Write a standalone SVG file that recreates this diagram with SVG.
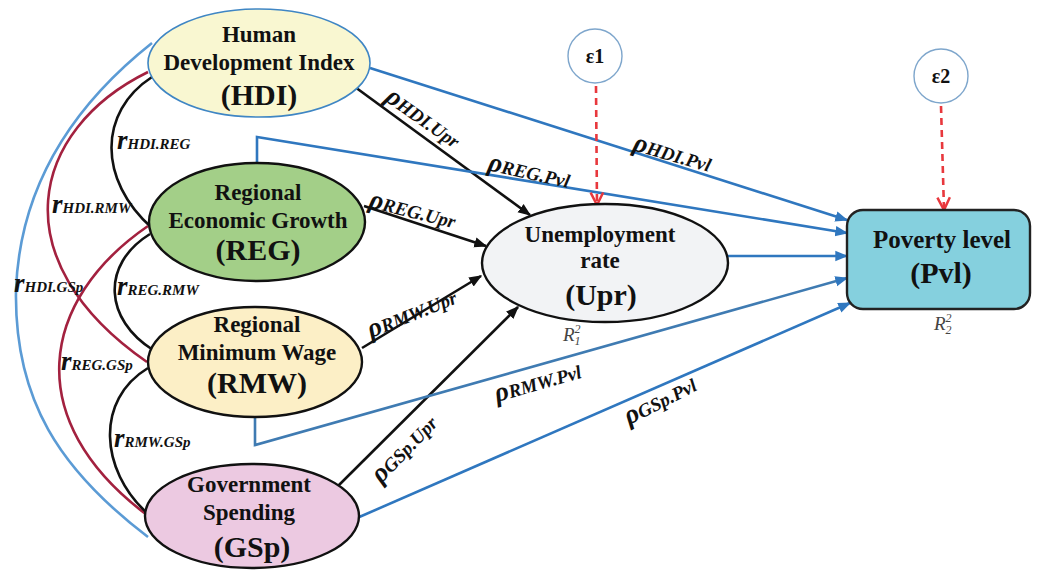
<svg xmlns="http://www.w3.org/2000/svg" width="1037" height="572" viewBox="0 0 1037 572">
<style>
.t{font-family:"Liberation Serif","Times New Roman",serif;font-weight:bold;fill:#111;text-anchor:middle}
.n{font-size:23px}
.a{font-size:30px}
.lab{font-family:"Liberation Serif","Times New Roman",serif;font-weight:bold;font-style:italic;fill:#111}
.big{font-size:27px}
.sub{font-size:15px}
.psub{font-size:19px}
.blk{stroke:#111;stroke-width:2.6;fill:none}
.blu{stroke:#2f77bf;stroke-width:2.6;fill:none}
.red{stroke:#a3213f;stroke-width:2.6;fill:none}
.r2{font-family:"Liberation Serif","Times New Roman",serif;font-style:italic;fill:#444;font-size:19px}
.r2s{font-size:12px}
</style>
<defs>
<marker id="ab" viewBox="0 0 10 10" refX="9" refY="5" markerWidth="5" markerHeight="5" orient="auto" markerUnits="strokeWidth"><path d="M0,1 L10,5 L0,9 z" fill="#111"/></marker>
<marker id="au" viewBox="0 0 10 10" refX="9" refY="5" markerWidth="5" markerHeight="5" orient="auto" markerUnits="strokeWidth"><path d="M0,1 L10,5 L0,9 z" fill="#2f77bf"/></marker>
<marker id="ar" viewBox="0 0 10 10" refX="9" refY="5" markerWidth="6" markerHeight="6" orient="auto" markerUnits="strokeWidth"><path d="M1,1 L9,5 L1,9" fill="none" stroke="#e8383d" stroke-width="1.6"/></marker>
</defs>
<rect width="1037" height="572" fill="#fff"/>
<g id="connectors">
<path class="blu" style="stroke:#5b9bd5" d="M152,43 C80,100 20,180 16,290 C14,400 60,470 148,537"/>
<path class="red" d="M148,72 C30,130 0,260 147,362"/>
<path class="red" d="M148,226 C40,300 20,420 147,515"/>
<path class="blk" d="M152,77 C98,112 98,180 152,228"/>
<path class="blk" d="M150,234 C100,265 105,320 153,350"/>
<path class="blk" d="M148,368 C95,400 100,470 147,513"/>
<line class="blk" x1="355" y1="87" x2="530" y2="215" marker-end="url(#ab)"/>
<line class="blk" x1="364" y1="206" x2="486" y2="246" marker-end="url(#ab)"/>
<line class="blk" x1="362" y1="348" x2="481" y2="276" marker-end="url(#ab)"/>
<line class="blk" x1="338" y1="486" x2="518" y2="307" marker-end="url(#ab)"/>
<line class="blu" x1="370" y1="68" x2="847" y2="220" marker-end="url(#au)"/>
<polyline class="blu" points="257,163 257,137 847,233" marker-end="url(#au)"/>
<line class="blu" x1="728" y1="256" x2="847" y2="256" marker-end="url(#au)"/>
<polyline class="blu" style="stroke:#3f7bb2" points="255,416 255,445 847,278" marker-end="url(#au)"/>
<line class="blu" x1="357" y1="518" x2="850" y2="303" marker-end="url(#au)"/>
<line x1="596" y1="86" x2="597" y2="205" stroke="#e8383d" stroke-width="2.6" stroke-dasharray="7,5" marker-end="url(#ar)"/>
<line x1="941" y1="106" x2="944" y2="210" stroke="#e8383d" stroke-width="2.6" stroke-dasharray="7,5" marker-end="url(#ar)"/>
</g>
<g id="HDI">
<ellipse cx="259" cy="63" rx="111" ry="54" fill="#f9f7d1" stroke="#3f86c4" stroke-width="1.6"/>
<text class="t n" x="259" y="42">Human</text>
<text class="t n" x="259" y="70">Development Index</text>
<text class="t a" x="259" y="105">(HDI)</text>
</g>
<g id="REG">
<ellipse cx="257" cy="222" rx="108" ry="59" fill="#a3cf88" stroke="#111" stroke-width="2.4"/>
<text class="t n" x="258" y="200">Regional</text>
<text class="t n" x="258" y="228">Economic Growth</text>
<text class="t a" x="258" y="260">(REG)</text>
</g>
<g id="RMW">
<ellipse cx="255" cy="362" rx="107" ry="55" fill="#fcefc6" stroke="#111" stroke-width="2.4"/>
<text class="t n" x="257" y="332">Regional</text>
<text class="t n" x="257" y="360">Minimum Wage</text>
<text class="t a" x="257" y="393">(RMW)</text>
</g>
<g id="GSp">
<ellipse cx="252" cy="516" rx="107" ry="52" fill="#ecc9e1" stroke="#111" stroke-width="2.4"/>
<text class="t n" x="249" y="492">Government</text>
<text class="t n" x="249" y="520">Spending</text>
<text class="t a" x="252" y="557">(GSp)</text>
</g>
<g id="Upr">
<ellipse cx="605" cy="263" rx="123" ry="59" fill="#f2f3f5" stroke="#111" stroke-width="2.4"/>
<text class="t n" x="600" y="242">Unemployment</text>
<text class="t n" x="600" y="268">rate</text>
<text class="t a" x="601" y="305">(Upr)</text>
</g>
<g id="Pvl">
<rect x="847" y="210" width="183" height="99" rx="16" fill="#85d0de" stroke="#222" stroke-width="2.4"/>
<text class="t" style="font-size:25px" x="942" y="248">Poverty level</text>
<text class="t" style="font-size:30px" x="941" y="283">(Pvl)</text>
</g>
<g id="e1">
<circle cx="595" cy="56" r="27" fill="#fff" stroke="#7ea6cc" stroke-width="1.4"/>
<text class="t" style="font-size:20px" x="595" y="63">ε1</text>
</g>
<g id="e2">
<circle cx="941" cy="76" r="27" fill="#fff" stroke="#7ea6cc" stroke-width="1.4"/>
<text class="t" style="font-size:20px" x="941" y="83">ε2</text>
</g>
<g id="labels">
<text class="lab" x="117" y="149"><tspan class="big">r</tspan><tspan class="sub">HDI.REG</tspan></text>
<text class="lab" x="52" y="213"><tspan class="big">r</tspan><tspan class="sub">HDI.RMW</tspan></text>
<text class="lab" x="14" y="292"><tspan class="big">r</tspan><tspan class="sub">HDI.GSp</tspan></text>
<text class="lab" x="117" y="295"><tspan class="big">r</tspan><tspan class="sub">REG.RMW</tspan></text>
<text class="lab" x="61" y="370"><tspan class="big">r</tspan><tspan class="sub">REG.GSp</tspan></text>
<text class="lab" x="114" y="447"><tspan class="big">r</tspan><tspan class="sub">RMW.GSp</tspan></text>
<text class="lab" transform="translate(384,100) rotate(35)"><tspan class="big">ρ</tspan><tspan class="psub">HDI.Upr</tspan></text>
<text class="lab" transform="translate(368,207) rotate(14)"><tspan class="big">ρ</tspan><tspan class="psub">REG.Upr</tspan></text>
<text class="lab" transform="translate(487,170) rotate(12.5)"><tspan class="big">ρ</tspan><tspan class="psub">REG.Pvl</tspan></text>
<text class="lab" transform="translate(632,150) rotate(16)"><tspan class="big">ρ</tspan><tspan class="psub">HDI.Pvl</tspan></text>
<text class="lab" transform="translate(371,338) rotate(-22)"><tspan class="big">ρ</tspan><tspan class="psub">RMW.Upr</tspan></text>
<text class="lab" transform="translate(381,484) rotate(-46)"><tspan class="big">ρ</tspan><tspan class="psub">GSp.Upr</tspan></text>
<text class="lab" transform="translate(497,402) rotate(-16)"><tspan class="big">ρ</tspan><tspan class="psub">RMW.Pvl</tspan></text>
<text class="lab" transform="translate(629,425) rotate(-27)"><tspan class="big">ρ</tspan><tspan class="psub">GSp.Pvl</tspan></text>
<text class="r2" x="563" y="341">R<tspan class="r2s" dy="-8">2</tspan><tspan class="r2s" dx="-6" dy="12">1</tspan></text>
<text class="r2" x="934" y="330">R<tspan class="r2s" dy="-8">2</tspan><tspan class="r2s" dx="-6" dy="12">2</tspan></text>
</g>
</svg>
